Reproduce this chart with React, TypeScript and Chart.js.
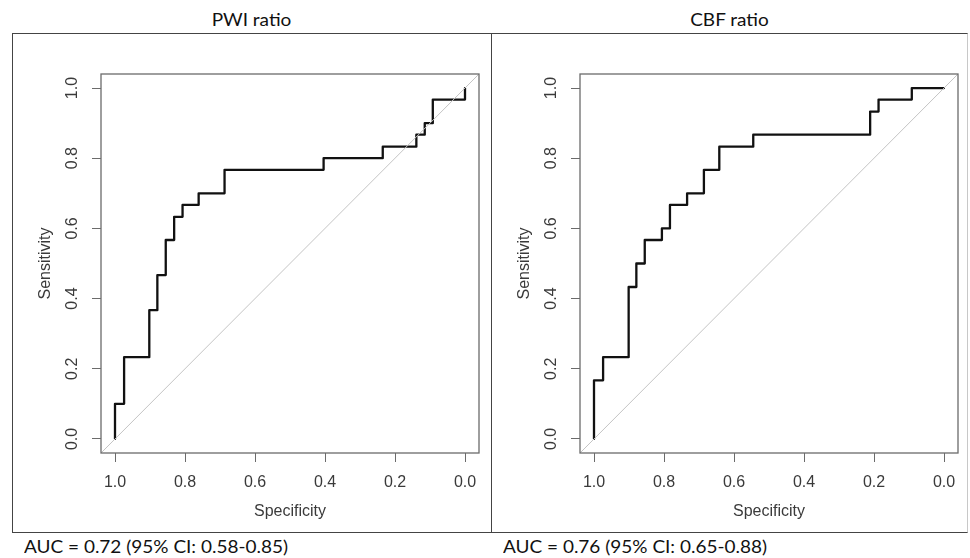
import React, { useEffect, useRef } from "react";
import { Chart, registerables } from "chart.js";

Chart.register(...registerables);

// ---- data ----
const panelTitles = ["PWI ratio", "CBF ratio"];
const aucLabels = [
  "AUC = 0.72 (95% CI: 0.58-0.85)",
  "AUC = 0.76 (95% CI: 0.65-0.88)",
];
const axisTickValues = [0, 0.2, 0.4, 0.6, 0.8, 1.0];
const xAxisTitle = "Specificity";
const yAxisTitle = "Sensitivity";

const pwiSpecificity = [
  1, 1, 0.974, 0.974, 0.902, 0.902, 0.879, 0.879, 0.855, 0.855, 0.831, 0.831,
  0.807, 0.807, 0.761, 0.761, 0.687, 0.687, 0.404, 0.404, 0.235, 0.235, 0.139,
  0.139, 0.115, 0.115, 0.092, 0.092, 0, 0,
];
const pwiSensitivity = [
  0, 0.1, 0.1, 0.233, 0.233, 0.367, 0.367, 0.467, 0.467, 0.567, 0.567, 0.633,
  0.633, 0.667, 0.667, 0.7, 0.7, 0.767, 0.767, 0.8, 0.8, 0.833, 0.833, 0.867,
  0.867, 0.9, 0.9, 0.967, 0.967, 1.0,
];

const cbfSpecificity = [
  1, 1, 0.974, 0.974, 0.901, 0.901, 0.879, 0.879, 0.855, 0.855, 0.806, 0.806,
  0.783, 0.783, 0.734, 0.734, 0.686, 0.686, 0.642, 0.642, 0.545, 0.545, 0.211,
  0.211, 0.187, 0.187, 0.092, 0.092, 0,
];
const cbfSensitivity = [
  0, 0.167, 0.167, 0.233, 0.233, 0.433, 0.433, 0.5, 0.5, 0.567, 0.567, 0.6,
  0.6, 0.667, 0.667, 0.7, 0.7, 0.767, 0.767, 0.833, 0.833, 0.867, 0.867, 0.933,
  0.933, 0.967, 0.967, 1.0, 1.0,
];

// reference (chance) line spanning the whole plotting region
const chanceSpecificity = [1.04, -0.04];
const chanceSensitivity = [-0.04, 1.04];
const axisMin = -0.04;
const axisMax = 1.04;

const toPoints = (xs: number[], ys: number[]) =>
  xs.map((x, i) => ({ x, y: ys[i] }));

const boxPlugin = {
  id: "rbox",
  afterDatasetsDraw(chart: any) {
    const { ctx, chartArea } = chart;
    ctx.save();
    ctx.strokeStyle = "#6b6b6b";
    ctx.lineWidth = 1.3;
    ctx.strokeRect(
      chartArea.left,
      chartArea.top,
      chartArea.right - chartArea.left,
      chartArea.bottom - chartArea.top
    );
    ctx.restore();
  },
};

const tickFont = { family: "'Liberation Sans', Arial, sans-serif", size: 16 };

function makeConfig(spec: number[], sens: number[]): any {
  return {
    type: "scatter",
    data: {
      datasets: [
        {
          data: toPoints(chanceSpecificity, chanceSensitivity),
          showLine: true,
          borderColor: "#c4c4c4",
          borderWidth: 1,
          pointRadius: 0,
        },
        {
          data: toPoints(spec, sens),
          showLine: true,
          borderColor: "#111111",
          borderWidth: 2.3,
          pointRadius: 0,
          borderJoinStyle: "round",
          borderCapStyle: "round",
        },
      ],
    },
    options: {
      animation: false,
      responsive: false,
      events: [],
      layout: { padding: { top: 41, right: 12, left: 0, bottom: 0 } },
      plugins: {
        legend: { display: false },
        tooltip: { enabled: false },
        title: { display: false },
      },
      scales: {
        x: {
          type: "linear",
          reverse: true,
          min: axisMin,
          max: axisMax,
          afterBuildTicks: (scale: any) => {
            scale.ticks = axisTickValues.map((v) => ({ value: v }));
          },
          afterFit: (scale: any) => {
            scale.height = 80;
          },
          grid: {
            drawOnChartArea: false,
            drawTicks: true,
            tickLength: 9,
            color: "#6b6b6b",
            lineWidth: 1,
          },
          border: { display: false },
          ticks: {
            padding: 11,
            color: "#3a3a3a",
            font: tickFont,
            maxRotation: 0,
            autoSkip: false,
            callback: (v: any) => Number(v).toFixed(1),
          },
          title: {
            display: true,
            text: xAxisTitle,
            color: "#3a3a3a",
            font: tickFont,
            padding: { top: 0, bottom: 12 },
          },
        },
        y: {
          type: "linear",
          min: axisMin,
          max: axisMax,
          afterBuildTicks: (scale: any) => {
            scale.ticks = axisTickValues.map((v) => ({ value: v }));
          },
          afterFit: (scale: any) => {
            scale.width = 89;
          },
          grid: {
            drawOnChartArea: false,
            drawTicks: true,
            tickLength: 9,
            color: "#6b6b6b",
            lineWidth: 1,
          },
          border: { display: false },
          ticks: {
            padding: 8,
            color: "#3a3a3a",
            font: tickFont,
            minRotation: 90,
            maxRotation: 90,
            crossAlign: "center",
            autoSkip: false,
            callback: (v: any) => Number(v).toFixed(1),
          },
          title: {
            display: true,
            text: yAxisTitle,
            color: "#3a3a3a",
            font: tickFont,
            padding: { top: 24, bottom: 0 },
          },
        },
      },
    },
    plugins: [boxPlugin],
  };
}

const textFont = "Lato, 'Open Sans', sans-serif";

export default function App() {
  const leftRef = useRef<HTMLCanvasElement | null>(null);
  const rightRef = useRef<HTMLCanvasElement | null>(null);

  useEffect(() => {
    const c1 = new Chart(leftRef.current as HTMLCanvasElement, makeConfig(pwiSpecificity, pwiSensitivity));
    const c2 = new Chart(rightRef.current as HTMLCanvasElement, makeConfig(cbfSpecificity, cbfSensitivity));
    return () => {
      c1.destroy();
      c2.destroy();
    };
  }, []);

  const textStyle: React.CSSProperties = {
    position: "absolute",
    fontFamily: textFont,
    fontSize: 16.5,
    lineHeight: 1,
    color: "#111",
    whiteSpace: "nowrap",
  };

  return (
    <div
      style={{
        position: "absolute",
        left: 0,
        top: 0,
        width: 970,
        height: 558,
        background: "#ffffff",
        overflow: "hidden",
      }}
    >
      <div
        style={{
          position: "absolute",
          left: 12,
          top: 33,
          width: 956,
          height: 500,
          boxSizing: "border-box",
          borderLeft: "1px solid #444",
          borderTop: "1px solid #444",
          borderBottom: "1px solid #444",
          borderRight: "1px solid #c8c8c8",
        }}
      />
      <div
        style={{
          position: "absolute",
          left: 491,
          top: 33,
          width: 1,
          height: 500,
          background: "#444",
        }}
      />
      <canvas
        ref={leftRef}
        width={479}
        height={500}
        style={{ position: "absolute", left: 12, top: 33 }}
      />
      <canvas
        ref={rightRef}
        width={479}
        height={500}
        style={{ position: "absolute", left: 491, top: 33 }}
      />
      <div
        style={{
          ...textStyle,
          left: 12,
          top: 12,
          width: 479,
          textAlign: "center",
          transform: "scaleX(1.15)",
          transformOrigin: "center",
        }}
      >
        {panelTitles[0]}
      </div>
      <div
        style={{
          ...textStyle,
          left: 491,
          top: 12,
          width: 477,
          textAlign: "center",
          transform: "scaleX(1.15)",
          transformOrigin: "center",
        }}
      >
        {panelTitles[1]}
      </div>
      <div
        style={{
          ...textStyle,
          left: 24,
          top: 539,
          transform: "scaleX(1.15)",
          transformOrigin: "left center",
        }}
      >
        {aucLabels[0]}
      </div>
      <div
        style={{
          ...textStyle,
          left: 503,
          top: 539,
          transform: "scaleX(1.15)",
          transformOrigin: "left center",
        }}
      >
        {aucLabels[1]}
      </div>
    </div>
  );
}
